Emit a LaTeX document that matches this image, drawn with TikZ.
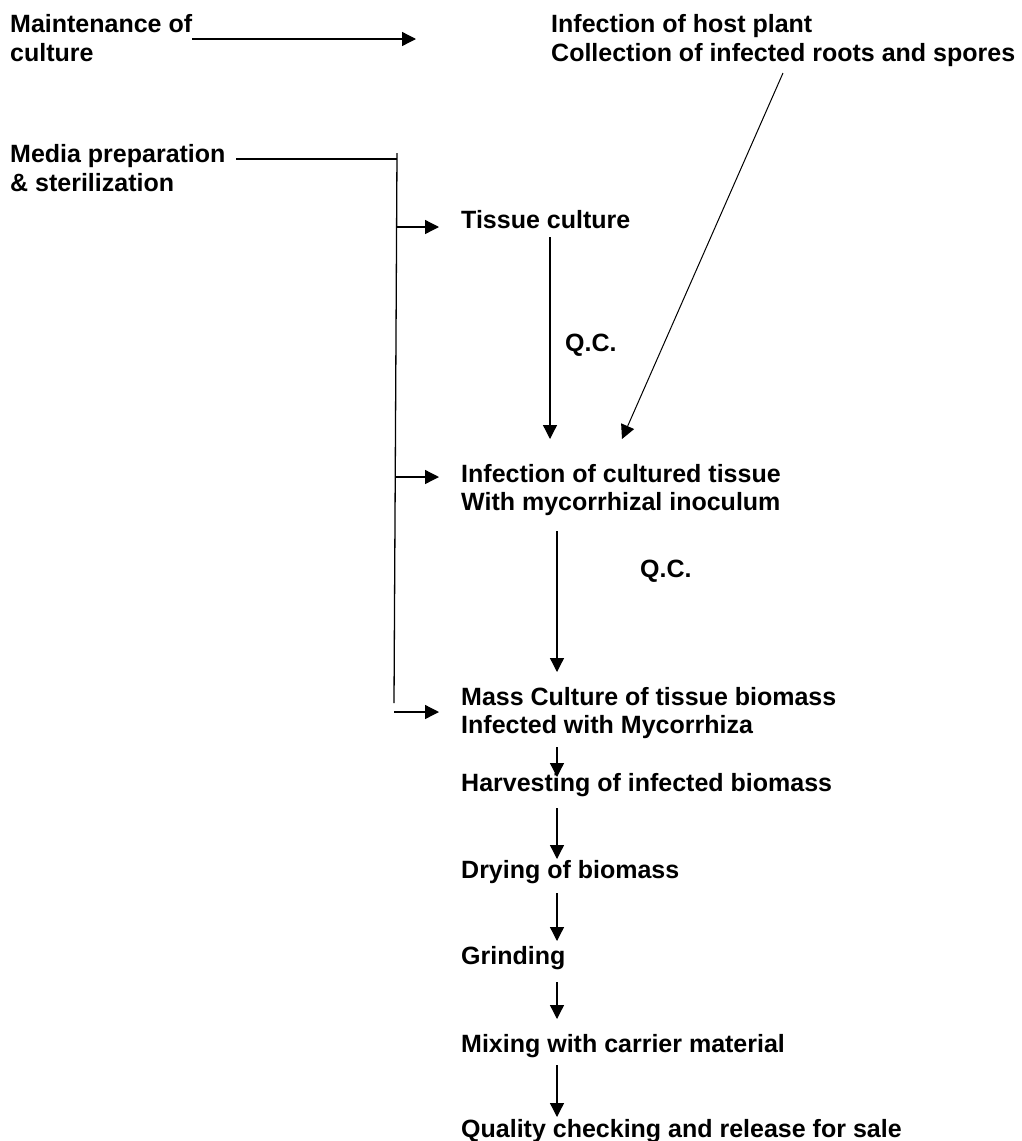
\documentclass[tikz,border=0pt]{standalone}
\usepackage{fontspec}
\setmainfont{Liberation Sans}
\usetikzlibrary{arrows.meta}
\begin{document}
\begin{tikzpicture}[x=1pt,y=-1pt,
  lbl/.style={anchor=base west,inner sep=0pt,font=\bfseries\fontsize{25}{29}\selectfont},
  arr/.style={-{Triangle[length=14pt,width=14pt]},line width=1.3pt},
  ln/.style={line width=1.3pt}]
\useasboundingbox[fill=white] (0,0) rectangle (1021,1141);

% texts
\node[lbl] (maint1) at (10,32) {Maintenance of};
\node[lbl] (maint2) at (10,61) {culture};
\node[lbl] (host1) at (551,32) {Infection of host plant};
\node[lbl] (host2) at (551,61) {Collection of infected roots and spores};
\node[lbl] (media1) at (10,162) {Media preparation};
\node[lbl] (media2) at (10,191) {\& sterilization};
\node[lbl] (tissue) at (461,228) {Tissue culture};
\node[lbl] (qc1) at (565,351) {Q.C.};
\node[lbl] (inf1) at (461,482) {Infection of cultured tissue};
\node[lbl] (inf2) at (461,510) {With mycorrhizal inoculum};
\node[lbl] (qc2) at (640,577) {Q.C.};
\node[lbl] (mass1) at (461,705) {Mass Culture of tissue biomass};
\node[lbl] (mass2) at (461,733) {Infected with Mycorrhiza};
\node[lbl] (harv) at (461,791) {Harvesting of infected biomass};
\node[lbl] (dry) at (461,878) {Drying of biomass};
\node[lbl] (grind) at (461,964) {Grinding};
\node[lbl] (mix) at (461,1052) {Mixing with carrier material};
\node[lbl] (qual) at (461,1137) {Quality checking and release for sale};

% connector end points
\coordinate (mA) at (192,39);   \coordinate (mB) at (416,39);
\coordinate (meA) at (236,159); \coordinate (meB) at (397,159);
\coordinate (vTop) at (397,153); \coordinate (vBot) at (394,703);
\coordinate (h1a) at (396,227); \coordinate (h1b) at (439,227);
\coordinate (h2a) at (395,477); \coordinate (h2b) at (439,477);
\coordinate (h3a) at (394,712); \coordinate (h3b) at (439,712);
\coordinate (dA) at (783,73);   \coordinate (dB) at (622,439);
\coordinate (t1a) at (550,237); \coordinate (t1b) at (550,439);
\coordinate (t2a) at (557,531); \coordinate (t2b) at (557,672);
\coordinate (t3a) at (557,747); \coordinate (t3b) at (557,777);
\coordinate (t4a) at (557,808); \coordinate (t4b) at (557,859);
\coordinate (t5a) at (557,893); \coordinate (t5b) at (557,941);
\coordinate (t6a) at (557,982); \coordinate (t6b) at (557,1019);
\coordinate (t7a) at (557,1065); \coordinate (t7b) at (557,1117);

% connectors
\draw[arr] (mA) -- (mB);
\draw[ln] (meA) -- (meB);
\draw[ln] (vTop) -- (vBot);
\draw[arr] (h1a) -- (h1b);
\draw[arr] (h2a) -- (h2b);
\draw[arr] (h3a) -- (h3b);
\draw[arr,line width=1pt] (dA) -- (dB);
\draw[arr] (t1a) -- (t1b);
\draw[arr] (t2a) -- (t2b);
\draw[arr] (t3a) -- (t3b);
\draw[arr] (t4a) -- (t4b);
\draw[arr] (t5a) -- (t5b);
\draw[arr] (t6a) -- (t6b);
\draw[arr] (t7a) -- (t7b);
\end{tikzpicture}
\end{document}
